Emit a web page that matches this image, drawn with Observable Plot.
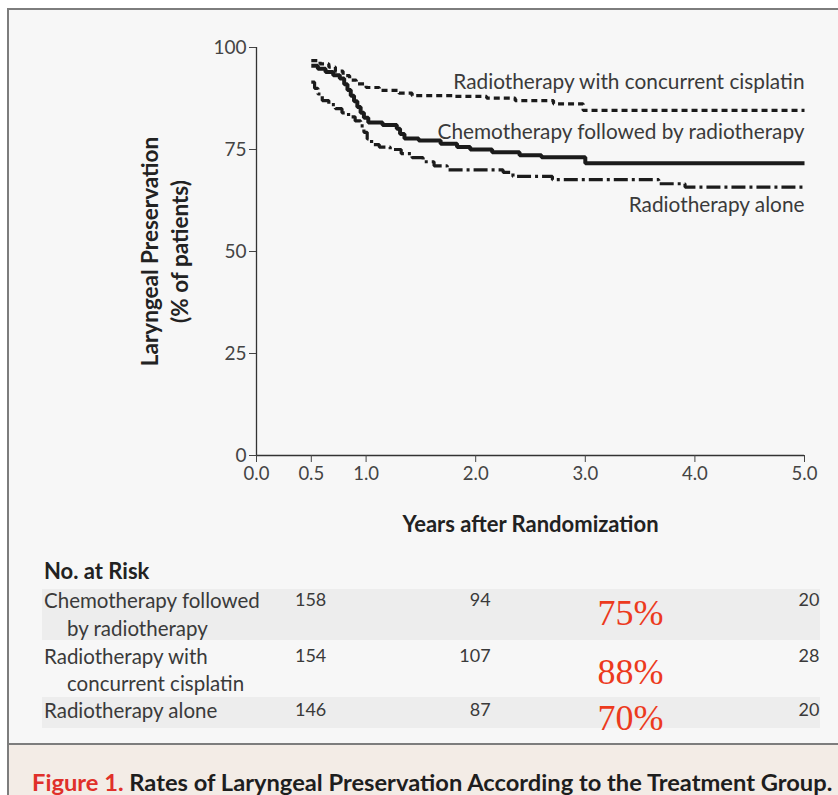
<!DOCTYPE html>
<html>
<head>
<meta charset="utf-8">
<script src="https://cdn.jsdelivr.net/npm/d3@7"></script>
<script src="https://cdn.jsdelivr.net/npm/@observablehq/plot@0.6"></script>
<style>
  html, body { margin: 0; padding: 0; background: #ffffff; }
  body { width: 838px; height: 795px; overflow: hidden; position: relative; font-family: Lato, "Open Sans", sans-serif; }
  #panel { position: absolute; left: 7px; top: 8px; width: 900px; height: 900px; background: #f7f7f7;
           border-left: 2px solid #7d7d7d; border-top: 2px solid #7d7d7d; }
  .band { position: absolute; left: 42px; width: 778px; background: #ededed; }
  .lab { position: absolute; font-size: 20.5px; line-height: 24px; color: #3a3a3a; white-space: nowrap; }
  #risk-title { position: absolute; left: 44px; top: 558px; font-size: 22px; line-height: 26px; font-weight: bold; color: #222; }
  #caption { position: absolute; left: 9px; top: 743px; width: 900px; height: 60px; background: #f3ece6;
             border-top: 2px solid #7d7d7d; }
  #caption p { margin: 0; position: absolute; left: 23px; top: 22px; font-size: 23.7px; line-height: 30px;
               font-weight: bold; color: #1e1e1e; white-space: nowrap; }
  #caption .fig { color: #e0302a; }
  #chart { position: absolute; left: 0; top: 0; }
</style>
</head>
<body>
<div id="panel"></div>
<div class="band" style="top:589px;height:51px"></div>
<div class="band" style="top:697px;height:31px"></div>
<div id="risk-title">No. at Risk</div>
<div class="lab" style="left:44px;top:588px">Chemotherapy followed</div>
<div class="lab" style="left:67px;top:616px">by radiotherapy</div>
<div class="lab" style="left:44px;top:644px">Radiotherapy with</div>
<div class="lab" style="left:67px;top:671px">concurrent cisplatin</div>
<div class="lab" style="left:44px;top:698px">Radiotherapy alone</div>
<div id="caption"><p><span class="fig">Figure 1.</span> Rates of Laryngeal Preservation According to the Treatment Group.</p></div>
<div id="chart"></div>
<script>
// Kaplan–Meier estimates of laryngeal preservation (% of patients) by years after randomization
const chemoTimes = [0.50, 0.56, 0.63, 0.70, 0.76, 0.80, 0.83, 0.86, 0.89, 0.92, 0.95, 0.98, 1.02, 1.15, 1.28, 1.31, 1.35, 1.48, 1.68, 1.83, 1.95, 2.15, 2.40, 2.60, 3.00, 5.00];
const chemoPct   = [95.5, 94.8, 94.0, 93.2, 92.4, 91.0, 89.6, 88.2, 86.8, 85.4, 84.0, 82.8, 81.6, 81.0, 80.1, 78.8, 77.7, 77.2, 76.4, 75.6, 75.0, 74.3, 73.6, 73.1, 71.6, 71.6];

const cisTimes = [0.50, 0.58, 0.66, 0.72, 0.79, 0.85, 0.91, 1.00, 1.12, 1.30, 1.42, 1.80, 2.10, 2.36, 2.71, 2.98, 5.00];
const cisPct   = [96.8, 96.0, 95.2, 94.2, 93.1, 92.0, 91.1, 90.2, 89.5, 88.8, 88.2, 88.0, 87.6, 87.0, 86.2, 84.6, 84.6];

const rtTimes = [0.50, 0.53, 0.56, 0.60, 0.66, 0.72, 0.78, 0.84, 0.90, 0.95, 0.98, 1.01, 1.05, 1.12, 1.22, 1.32, 1.42, 1.52, 1.62, 1.74, 2.25, 2.34, 2.70, 3.67, 3.91, 5.00];
const rtPct   = [91.5, 90.0, 88.6, 87.0, 86.0, 85.0, 84.0, 83.0, 82.0, 80.8, 79.2, 77.6, 76.2, 75.6, 75.0, 74.0, 73.0, 72.0, 71.0, 70.0, 69.4, 68.4, 67.6, 66.6, 65.8, 65.8];

const groupNames = ["Chemotherapy followed by radiotherapy", "Radiotherapy with concurrent cisplatin", "Radiotherapy alone"];
const twoYearRates = [75, 88, 70];

const riskTimes = [0.5, 2.0, 5.0];
const riskChemo = [158, 94, 20];
const riskCis   = [154, 107, 28];
const riskRT    = [146, 87, 20];

const xTicks = [0, 0.5, 1, 2, 3, 4, 5];
const yTicks = [0, 25, 50, 75, 100];

const ink = "#1b1b1b";
const textColor = "#3a3a3a";

const series = [
  {name: groupNames[0], times: chemoTimes, pct: chemoPct, risk: riskChemo, rate: twoYearRates[0],
   width: 4, dash: null, labelDy: -31, riskDy: 145, rateDy: 158},
  {name: groupNames[1], times: cisTimes, pct: cisPct, risk: riskCis, rate: twoYearRates[1],
   width: 3.2, dash: "6,4", labelDy: -28, riskDy: 201, rateDy: 217},
  {name: groupNames[2], times: rtTimes, pct: rtPct, risk: riskRT, rate: twoYearRates[2],
   width: 3.2, dash: "14,4,3,4", labelDy: 18, riskDy: 255, rateDy: 263}
];

const marks = [
  Plot.ruleX([0], {y1: 0, y2: 100, stroke: "#333", strokeWidth: 1.3}),
  Plot.ruleY([0], {x1: 0, x2: 5, stroke: "#333", strokeWidth: 1.3}),
  Plot.axisY({ticks: yTicks, tickSize: 7, tickPadding: 3, label: null, fontSize: 19, color: "#444"}),
  Plot.axisX({ticks: xTicks, tickSize: 7, tickPadding: 4, tickFormat: d3.format(".1f"), label: null, fontSize: 18.5, color: "#444"}),
  Plot.text(["Laryngeal Preservation\n(% of patients)"], {
    text: d => d, frameAnchor: "left", dx: -93, rotate: -90, textAnchor: "middle", lineAnchor: "middle",
    fontWeight: "bold", fontSize: 22.5, lineHeight: 1.33, fill: "#222"
  }),
  Plot.text(["Years after Randomization"], {
    text: d => d, frameAnchor: "bottom", dy: 69, lineAnchor: "middle", fontWeight: "bold", fontSize: 22, fill: "#222"
  })
];

for (const s of series) {
  const pts = s.times.map((t, i) => ({t, p: s.pct[i]}));
  marks.push(Plot.line(pts, {
    x: "t", y: "p", curve: "step-after", stroke: ink, strokeWidth: s.width,
    strokeDasharray: s.dash, strokeLinecap: "butt", strokeLinejoin: "miter"
  }));
  const last = pts[pts.length - 1];
  marks.push(Plot.text([last], {
    x: "t", y: "p", text: () => s.name, textAnchor: "end", lineAnchor: "middle", dy: s.labelDy,
    fontSize: 20.8, fill: textColor
  }));
  // numbers at risk, right-aligned just past each time point
  marks.push(Plot.text(riskTimes.map((t, i) => ({t, n: s.risk[i]})), {
    x: "t", text: "n", frameAnchor: "bottom", textAnchor: "end", lineAnchor: "middle",
    dx: 15, dy: s.riskDy, fontSize: 18, fill: textColor
  }));
  marks.push(Plot.text([s.rate], {
    text: d => `${d}%`, frameAnchor: "bottom", lineAnchor: "middle", dx: 100, dy: s.rateDy,
    fontFamily: "Liberation Serif", fontSize: 36, fill: "#ec3a1d"
  }));
}

const chart = Plot.plot({
  width: 838,
  height: 743,
  marginLeft: 256,
  marginRight: 34,
  marginTop: 47,
  marginBottom: 288,
  x: {domain: [0, 5]},
  y: {domain: [0, 100]},
  style: {fontFamily: "Lato, 'Open Sans', sans-serif", fontSize: "17px", background: "transparent", overflow: "visible"},
  marks
});
document.getElementById("chart").appendChild(chart);
</script>
</body>
</html>
